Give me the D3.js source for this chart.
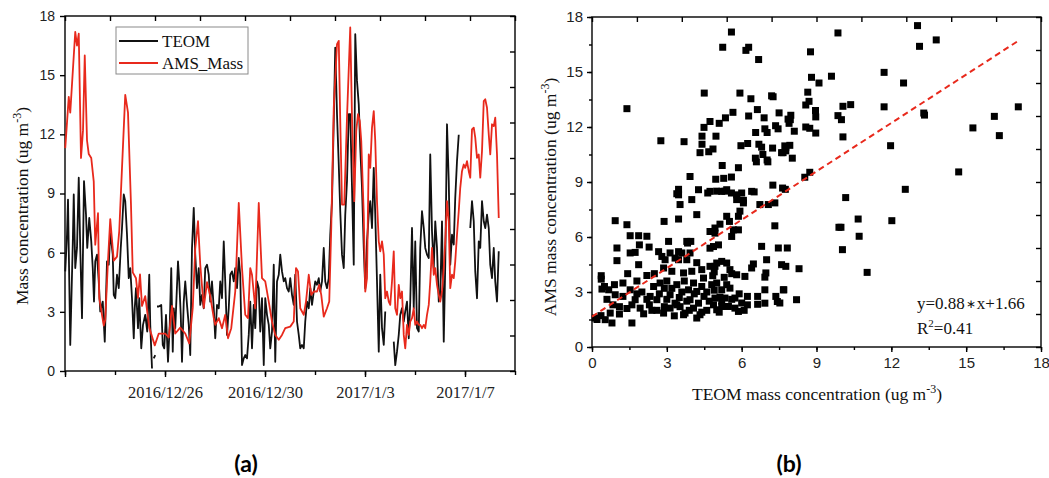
<!DOCTYPE html>
<html>
<head>
<meta charset="utf-8">
<script src="https://cdn.jsdelivr.net/npm/d3@7"></script>
<style>
    body { margin: 0; background: #fff; }
    svg { display: block; }
</style>
</head>
<body>
<div id="chart"></div>
<script>
// ---- data ----
// (a) time series, day offsets from 2016/12/22 00:00
const startDate = new Date(2016, 11, 22);
const teomDays = [0.01, 0.08, 0.12, 0.21, 0.31, 0.35, 0.41, 0.48, 0.55, 0.61, 0.68, 0.76, 0.84, 0.89, 0.97, 1.05, 1.11, 1.16, 1.21, 1.28,
    1.35, 1.41, 1.51, 1.59, 1.68, 1.75, 1.81, 1.91, 1.95, 2.01, 2.08, 2.15, 2.23, 2.28, 2.35, 2.41, 2.48, 2.55, 2.61, 2.68,
    2.75, 2.79, 2.84, 2.92, 2.97, 3.05, 3.12, 3.21, 3.29, 3.37, 3.41, 3.48, 3.52, 3.55, 3.61, 3.64, 3.68, 3.75, 3.85, 3.91,
    3.97, 4.04, 4.12, 4.19, 4.25, 4.31, 4.35, 4.41, 4.52, 4.57, 4.63, 4.68, 4.75, 4.81, 4.88, 4.95, 5.01, 5.08, 5.15, 5.21,
    5.28, 5.35, 5.41, 5.48, 5.55, 5.61, 5.68, 5.75, 5.81, 5.88, 5.95, 6.01, 6.08, 6.15, 6.21, 6.28, 6.35, 6.41, 6.48, 6.55,
    6.61, 6.68, 6.75, 6.81, 6.88, 6.95, 7.01, 7.08, 7.15, 7.21, 7.28, 7.35, 7.41, 7.48, 7.55, 7.61, 7.68, 7.75, 7.81, 7.88,
    7.95, 8.01, 8.08, 8.15, 8.21, 8.28, 8.35, 8.41, 8.48, 8.55, 8.61, 8.68, 8.75, 8.81, 8.88, 8.95, 9.01, 9.08, 9.15, 9.21,
    9.28, 9.35, 9.41, 9.48, 9.55, 9.61, 9.68, 9.75, 9.81, 9.88, 9.95, 10.01, 10.08, 10.15, 10.21, 10.28, 10.35, 10.41, 10.48, 10.55,
    10.61, 10.68, 10.75, 10.81, 10.88, 10.95, 11.01, 11.08, 11.15, 11.21, 11.28, 11.35, 11.41, 11.48, 11.55, 11.61, 11.68, 11.75, 11.81, 11.88,
    11.95, 12.01, 12.08, 12.15, 12.21, 12.28, 12.35, 12.41, 12.48, 12.55, 12.61, 12.68, 12.75, 12.81, 12.98, 13.15, 13.21, 13.28, 13.35, 13.41,
    13.48, 13.55, 13.61, 13.68, 13.75, 13.81, 13.88, 13.95, 14.01, 14.08, 14.15, 14.21, 14.28, 14.35, 14.41, 14.48, 14.55, 14.61, 14.68, 14.75,
    14.81, 14.88, 14.95, 15.01, 15.08, 15.15, 15.21, 15.28, 15.35, 15.41, 15.48, 15.55, 15.61, 15.68, 15.75, 15.98, 16.21, 16.28, 16.35, 16.41,
    16.48, 16.55, 16.61, 16.68, 16.75, 16.81, 16.88, 16.95, 17.01, 17.08, 17.15, 17.21, 17.28, 17.35];
const teomMass = [5.05, 6.91, 8.69, 1.32, 6.41, 8.95, 5.22, 6.24, 9.80, 6.24, 2.68, 9.63, 7.93, 6.24, 7.76, 6.57, 5.22, 3.52, 5.56, 5.90,
    4.54, 3.02, 3.52, 1.49, 5.56, 5.39, 7.08, 5.90, 3.86, 3.69, 4.88, 4.20, 6.24, 7.25, 8.95, 8.61, 6.91, 4.71, 5.22, 3.69,
    1.66, 3.18, 4.20, 2.17, 3.69, 1.15, 2.34, 2.85, 2.00, 4.88, 2.34, 0.13, null, 0.64, 0.81, null, 3.27, 3.27, 3.35, 1.32,
    1.15, 2.85, 0.47, 2.34, 5.22, 0.98, 3.18, 2.17, 5.56, 4.54, 2.85, 0.47, 3.52, 4.54, 3.35, 2.34, 0.81, 6.24, 8.27, 5.90,
    4.20, 5.22, 3.35, 3.86, 3.18, 5.22, 5.39, 4.88, 3.52, 4.54, 3.18, 1.66, 3.35, 3.18, 4.54, 3.69, 6.57, 4.54, 1.83, 3.18,
    4.88, 5.05, 4.54, 5.22, 4.20, 5.73, 4.88, 0.30, 0.64, 0.81, 0.64, 1.83, 3.52, 1.15, 3.35, 2.17, 4.54, 4.20, 2.00, 3.69,
    0.30, 3.69, 2.85, 2.34, 1.15, 2.00, 5.39, 0.47, 4.54, 4.88, 5.90, 5.05, 4.54, 4.71, 4.20, 4.03, 4.71, 3.86, 3.35, 4.88,
    2.51, 1.83, 1.15, 1.32, 1.15, 2.51, 3.52, 3.18, 4.20, 3.35, 4.03, 4.54, 4.37, 4.71, 4.03, 4.54, 6.24, 4.54, 4.20, 4.71,
    6.91, 8.61, 12.68, 16.40, 13.02, 10.47, 8.10, 5.90, 5.22, 7.93, 9.63, 13.02, 13.02, 9.29, 5.39, 17.08, 14.71, 13.52, 11.32, 9.29,
    6.24, 4.20, 6.57, 7.93, 8.61, 7.25, 10.30, 7.93, 4.54, 0.98, 4.88, 2.17, 1.32, 3.02, null, 1.49, 0.30, 0.98, 1.83, 2.85,
    3.18, 2.51, 3.02, 3.52, 1.66, 3.52, 7.25, 3.18, 6.57, 2.17, 2.00, 6.24, 8.10, 7.25, 6.24, 5.90, 5.73, 10.98, 7.08, 5.22,
    7.59, 6.24, 3.52, 3.86, 7.59, 1.49, 5.39, 12.51, 9.63, 5.39, 6.91, 6.41, 8.78, 10.64, 11.98, null, 7.25, 8.61, 7.59, 5.05,
    3.69, 6.57, 6.24, 8.61, 7.59, 7.25, 7.93, 7.25, 5.39, 4.71, 6.24, 4.54, 3.52, 6.07];

const amsDays = [0.01, 0.15, 0.21, 0.41, 0.48, 0.55, 0.64, 0.72, 0.79, 0.88, 0.95, 1.05, 1.15, 1.21, 1.32, 1.37, 1.55, 1.61, 1.72, 1.81,
    1.95, 2.08, 2.17, 2.28, 2.41, 2.52, 2.64, 2.71, 2.84, 2.92, 3.00, 3.08, 3.21, 3.37, 3.59, 3.75, 4.01, 4.15, 4.28, 4.41,
    4.61, 4.81, 4.97, 5.11, 5.21, 5.32, 5.41, 5.55, 5.68, 5.81, 5.95, 6.01, 6.15, 6.28, 6.41, 6.52, 6.65, 6.81, 6.95, 7.08,
    7.21, 7.32, 7.41, 7.48, 7.61, 7.75, 7.88, 8.01, 8.15, 8.28, 8.41, 8.55, 8.68, 8.81, 9.01, 9.15, 9.24, 9.32, 9.41, 9.55,
    9.64, 9.75, 9.85, 9.95, 10.08, 10.17, 10.25, 10.35, 10.48, 10.57, 10.65, 10.75, 10.88, 10.95, 11.01, 11.08, 11.17, 11.28, 11.41, 11.48,
    11.57, 11.65, 11.72, 11.79, 11.85, 11.95, 12.01, 12.08, 12.15, 12.21, 12.28, 12.35, 12.41, 12.48, 12.55, 12.61, 12.68, 12.75, 12.81, 12.88,
    12.95, 13.01, 13.08, 13.15, 13.21, 13.28, 13.35, 13.41, 13.48, 13.55, 13.61, 13.68, 13.75, 13.81, 13.88, 13.95, 14.01, 14.08, 14.15, 14.21,
    14.28, 14.35, 14.41, 14.48, 14.55, 14.61, 14.68, 14.75, 14.81, 14.88, 14.95, 15.01, 15.08, 15.15, 15.21, 15.28, 15.35, 15.41, 15.48, 15.55,
    15.61, 15.68, 15.75, 15.81, 15.88, 15.95, 16.01, 16.08, 16.15, 16.21, 16.28, 16.35, 16.41, 16.48, 16.55, 16.61, 16.68, 16.75, 16.81, 16.88,
    16.95, 17.01, 17.08, 17.15, 17.21, 17.28, 17.35];
const amsMass = [11.3, 13.9, 13.1, 17.2, 16.5, 17.1, 10.8, 12.2, 16.0, 11.7, 11.0, 10.8, 9.6, 6.4, 8.0, 3.7, 2.3, 2.6, 5.6, 7.7,
    5.6, 5.8, 7.1, 10.3, 14.0, 13.1, 8.4, 5.0, 4.7, 3.7, 4.9, 3.3, 3.8, 2.2, 1.3, 1.9, 1.9, 1.7, 3.3, 1.9,
    2.2, 1.9, 1.4, 3.2, 6.2, 7.6, 5.4, 3.2, 4.5, 3.8, 2.7, 2.34, 2.68, 2.17, 2.85, 1.66, 2.17, 4.03, 8.52, 5.22,
    2.85, 2.68, 5.22, 4.88, 3.18, 8.52, 4.71, 4.54, 3.52, 2.51, 1.83, 1.58, 1.83, 2.17, 2.25, 2.51, 5.22, 5.05, 3.18, 2.85,
    3.52, 4.88, 3.86, 4.03, 4.03, 4.37, 3.86, 2.76, 3.18, 3.52, 7.25, 13.35, 16.57, 16.74, 12.68, 8.44, 8.44, 12.85, 17.42, 12.85,
    8.61, 12.17, 13.02, 12.68, 11.66, 7.93, 4.03, 4.71, 10.98, 10.30, 12.34, 13.18, 11.66, 8.61, 6.57, 6.07, 6.57, 5.90, 3.69, 4.03,
    3.52, 3.35, 4.54, 6.07, 3.18, 2.85, 4.37, 3.69, 4.03, 1.83, 1.15, 2.34, 1.83, 2.51, 2.68, 3.18, 2.34, 2.51, 2.34, 2.34,
    2.17, 2.34, 2.17, 2.85, 3.35, 4.54, 6.24, 4.88, 5.22, 4.37, 3.86, 3.52, 4.03, 5.22, 6.57, 8.61, 7.59, 4.20, 4.88, 4.71,
    5.56, 6.91, 8.10, 9.29, 10.13, 10.47, 10.30, 10.64, 10.13, 9.80, 12.25, 12.34, 11.83, 10.81, 10.98, 9.80, 11.15, 13.69, 13.78, 13.35,
    12.00, 10.98, 12.51, 12.42, 12.85, 10.98, 7.76];

const dateTicks = ['2016/12/26', '2016/12/30', '2017/1/3', '2017/1/7'];
const massTicks = [0, 3, 6, 9, 12, 15, 18];

// (b) scatter, TEOM vs AMS (ug m-3)
const scatterTeom = [1.4, 2.76, 3.69, 4.5, 4.49, 4.73, 5.1, 5.35, 5.65, 5.24, 5.59, 6.17, 6.28, 6.68, 5.93, 6.37, 6.28, 6.63, 6.9, 7.2,
    7.26, 7.5, 7.36, 7.46, 7.86, 7.9, 6.56, 6.93, 7.02, 4.41, 4.97, 4.41, 4.85, 4.68, 4.33, 5.97, 6.24, 6.69, 6.8, 6.55,
    6.59, 6.85, 7.02, 7.05, 7.24, 7.66, 7.77, 5.22, 5.87, 5.28, 5.59, 4.96, 3.93, 6.5, 7.25, 7.75, 3.47, 3.47, 4.64, 5.0,
    5.33, 5.59, 5.8, 6.07,
    9.86, 13.05, 13.13, 13.8, 8.76, 9.6, 8.8, 9.1, 8.65, 8.7, 8.57, 8.96, 8.97, 7.97, 7.95, 8.11, 8.57, 8.73, 8.97, 9.86,
    10.0, 10.06, 10.37, 10.06, 11.71, 12.49, 11.71, 13.3, 13.33, 15.27, 16.13, 16.33, 17.09, 11.97, 14.7, 12.56, 10.17, 7.93, 7.73, 7.6,
    7.77, 8.03, 8.73, 8.53, 7.64,
    10.67, 12.02, 9.9, 9.98, 10.71, 10.04, 7.83, 11.03, 7.6, 7.77, 8.3, 7.67, 8.2, 7.53,
    0.93, 1.4, 1.53, 1.87, 2.2, 2.29, 1.9, 1.53, 1.73, 1.0, 1.0, 1.87, 1.43, 0.37, 0.37, 0.4, 0.67, 0.93, 0.84, 0.73,
    0.53, 0.13, 0.36, 0.8, 1.6, 1.24, 1.24, 1.53, 1.73, 1.6, 1.93, 2.07, 2.47, 2.33, 2.73, 2.67, 2.87, 2.8, 2.93, 3.07,
    2.89, 3.13, 3.33, 3.47, 3.2, 3.4, 3.13, 2.6, 2.87, 3.13, 3.33, 3.53, 3.73, 3.47, 3.47, 3.83, 3.96, 3.8, 3.93, 3.67,
    4.0, 4.07, 3.87, 4.2, 3.93, 4.27, 4.07, 4.2, 4.33, 3.67, 3.4, 4.4, 4.47, 4.4, 4.49, 4.73, 4.84, 4.93, 5.0, 5.2,
    5.4, 5.53, 5.8, 4.8, 5.0, 5.2, 5.4, 5.53, 4.93, 5.13, 5.33, 4.87, 5.0, 5.2, 5.47, 5.73, 5.73, 5.87, 6.23, 6.23,
    6.13, 6.4, 6.47, 6.8, 7.0, 6.97, 6.93, 6.64, 6.64, 6.93, 6.93, 7.43, 7.37, 7.69, 7.33, 7.47, 7.33, 7.07, 6.73, 6.07,
    5.93, 5.87, 5.4, 5.51, 5.67, 5.87, 5.6, 5.13, 4.93, 4.73, 4.93, 4.73, 5.07, 4.87, 4.2, 4.0, 3.53, 3.4, 4.27, 4.73,
    5.2, 5.4, 5.8, 6.0, 6.4, 3.8, 3.6,
    2.0, 2.2, 2.5, 2.6, 3.0, 3.2, 3.6, 3.8, 4.6, 4.7, 5.1, 2.3, 1.1, 0.6, 3.0, 4.1, 4.9, 5.6, 2.7, 1.8,
    0.2, 0.5,
    2.4, 2.9, 3.3, 3.5, 3.9, 4.4, 4.6, 4.9, 5.2, 5.6, 5.9, 6.0, 2.2, 1.8, 1.4, 0.9, 1.1, 2.9, 3.7, 4.2,
    5.3, 6.1];
const scatterAms = [13.0, 11.25, 11.2, 13.85, 11.98, 12.3, 12.2, 12.5, 12.8, 16.35, 17.18, 16.18, 16.35, 15.68, 13.85, 13.54, 12.6, 12.95, 12.5, 13.7,
    13.65, 12.77, 12.07, 11.9, 12.43, 12.2, 11.7, 11.9, 11.7, 11.5, 11.5, 11.06, 10.8, 10.65, 10.6, 10.98, 11.1, 11.06, 10.9, 10.3,
    10.1, 10.5, 10.2, 10.1, 10.85, 10.6, 10.9, 9.9, 9.78, 9.2, 9.27, 9.15, 9.3, 8.46, 8.83, 8.6, 8.6, 8.3, 8.4, 8.5,
    8.5, 8.4, 8.3, 8.0,
    17.13, 17.53, 16.4, 16.75, 16.1, 14.77, 14.71, 14.4, 13.9, 13.4, 13.2, 12.9, 12.55, 12.64, 12.4, 11.77, 12.0, 11.93, 11.67, 12.62,
    12.4, 13.13, 13.22, 11.46, 14.98, 14.4, 13.1, 12.76, 12.65, 11.95, 12.58, 11.53, 13.1, 10.98, 9.55, 8.6, 8.15, 11.0, 10.97, 10.6,
    10.7, 10.3, 9.53, 9.26, 8.67,
    6.98, 6.89, 6.53, 6.53, 6.04, 5.31, 5.4, 4.07, 4.49, 4.4, 4.27, 3.12, 2.58, 2.4,
    6.89, 6.67, 6.07, 6.07, 6.04, 5.45, 5.57, 5.13, 5.16, 5.4, 4.71, 4.49, 4.0, 3.89, 3.7, 3.16, 3.12, 2.85, 2.3, 1.85,
    1.49, 1.58, 1.71, 1.31, 1.31, 2.76, 3.49, 3.12, 2.58, 2.3, 2.12, 1.81, 3.3, 2.76, 3.49, 5.2, 4.31, 4.94, 4.76, 5.76,
    6.85, 5.13, 4.85, 6.98, 4.13, 3.4, 2.85, 2.58, 1.85, 2.12, 2.39, 2.2, 1.85, 4.76, 5.2, 5.67, 5.76, 4.76, 5.13, 4.04,
    4.13, 3.49, 3.12, 3.03, 2.58, 2.39, 2.12, 1.58, 1.76, 1.76, 2.3, 4.22, 3.76, 3.3, 2.76, 4.4, 3.89, 4.4, 4.58, 4.67,
    4.58, 4.22, 3.94, 3.4, 3.49, 3.12, 3.4, 3.21, 2.67, 2.72, 2.67, 2.3, 2.03, 2.21, 2.21, 2.67, 2.12, 1.94, 2.3, 2.76,
    3.85, 4.31, 4.53, 5.49, 4.76, 4.04, 3.81, 2.76, 2.33, 3.12, 2.39, 2.48, 2.76, 3.12, 6.61, 5.4, 7.86, 7.77, 7.77, 7.86,
    7.41, 7.13, 7.13, 6.85, 6.39, 6.39, 6.03, 6.7, 6.49, 6.3, 6.21, 5.39, 5.57, 5.48, 7.22, 8.04, 7.77, 8.36, 8.58, 8.49,
    8.49, 8.58, 8.04, 8.4, 8.49, 5.76, 5.13,
    3.0, 3.9, 4.0, 2.0, 3.6, 3.2, 3.0, 2.5, 2.0, 2.5, 1.9, 2.3, 2.2, 2.6, 2.6, 2.9, 4.1, 4.0, 2.9, 3.6,
    1.5, 3.3,
    2.0, 2.2, 1.7, 2.7, 2.0, 1.9, 3.0, 3.1, 2.5, 2.6, 2.9, 2.4, 2.6, 2.9, 2.1, 3.4, 1.8, 3.2, 3.6, 4.6,
    3.8, 2.0];

const fitSlope = 0.88;
const fitIntercept = 1.66;
const fitRange = [0, 17.13];
const scatterTicks = [0, 3, 6, 9, 12, 15, 18];

// ---- style ----
const W = 1049;
const H = 478;
const SERIF = "'Liberation Serif', 'Times New Roman', serif";
const SANS = "'Liberation Sans', Arial, sans-serif";
const RED = '#e8291c';
const BLACK = '#111';
const AXIS_W = 1.4;
const TITLE_PX = 17.5;

const svg = d3.select('#chart')
    .append('svg')
    .attr('width', W)
    .attr('height', H);

svg.append('rect')
    .attr('width', W)
    .attr('height', H)
    .attr('fill', '#fff');

// draw the box axes: left/bottom outward, top/right inward with 10 divisions
function frame(g, plotW, plotH) {
    const top = d3.scaleLinear().domain([0, 10]).range([0, plotW]);
    const side = d3.scaleLinear().domain([0, 10]).range([plotH, 0]);

    g.append('g')
        .call(d3.axisTop(top).ticks(10).tickSize(-5).tickFormat(''));
    g.append('g')
        .attr('transform', `translate(${plotW},0)`)
        .call(d3.axisRight(side).ticks(10).tickSize(-5).tickFormat(''));

    g.append('rect')
        .attr('width', plotW)
        .attr('height', plotH)
        .attr('fill', 'none')
        .attr('stroke', '#000')
        .attr('stroke-width', AXIS_W);

    g.selectAll('.domain').remove();
    g.selectAll('.tick line')
        .attr('stroke', '#000')
        .attr('stroke-width', AXIS_W);
}

function styleTicks(sel, family, size) {
    sel.selectAll('.domain').remove();
    sel.selectAll('.tick line')
        .attr('stroke', '#000')
        .attr('stroke-width', AXIS_W);
    sel.selectAll('.tick text')
        .attr('fill', '#222')
        .style('font-family', family)
        .style('font-size', `${size}px`);
}

// axis title with "m-3" superscript
function unitTitle(x, y, rotate, main) {
    const t = svg.append('text')
        .attr('transform', `translate(${x},${y})${rotate ? ' rotate(-90)' : ''}`)
        .attr('text-anchor', 'middle')
        .style('font-family', SERIF)
        .style('font-size', `${TITLE_PX}px`)
        .attr('fill', '#111');
    t.append('tspan').text(`${main} (ug m`);
    t.append('tspan')
        .attr('dy', -7)
        .style('font-size', '12px')
        .text('-3');
    t.append('tspan')
        .attr('dy', 7)
        .text(')');
}

/**
 * (a) time series
 */
function makeSeries() {
    const left = 65;
    const top = 16;
    const plotW = 450;
    const plotH = 355;
    const parseTick = d3.timeParse('%Y/%m/%d');
    const dayToDate = d => new Date(startDate.getTime() + d * 864e5);

    const x = d3.scaleTime()
        .domain([startDate, dayToDate(18)])
        .range([0, plotW]);
    const y = d3.scaleLinear()
        .domain([0, 18])
        .range([plotH, 0]);

    const g = svg.append('g')
        .attr('transform', `translate(${left},${top})`);

    // minor ticks every 2 days
    const minor = d3.range(0, 19, 2).map(dayToDate);
    g.append('g')
        .attr('transform', `translate(0,${plotH})`)
        .call(d3.axisBottom(x).tickValues(minor).tickSize(4).tickFormat(''))
        .call(s => styleTicks(s, SERIF, 16));

    const major = [startDate].concat(dateTicks.map(parseTick));
    g.append('g')
        .attr('transform', `translate(0,${plotH})`)
        .call(d3.axisBottom(x)
            .tickValues(major)
            .tickSize(6)
            .tickPadding(9)
            .tickFormat(d => (+d === +startDate ? '' : `${d.getFullYear()}/${d.getMonth() + 1}/${d.getDate()}`)))
        .call(s => styleTicks(s, SERIF, 16.5));

    g.append('g')
        .call(d3.axisLeft(y).tickValues(massTicks).tickSize(5).tickPadding(5))
        .call(s => styleTicks(s, SANS, 14));

    frame(g, plotW, plotH);

    const line = d3.line()
        .defined(d => d[1] !== null)
        .x(d => x(dayToDate(d[0])))
        .y(d => y(d[1]));

    g.append('path')
        .datum(teomDays.map((d, i) => [d, teomMass[i]]))
        .attr('d', line)
        .attr('fill', 'none')
        .attr('stroke', BLACK)
        .attr('stroke-width', 1.8)
        .attr('stroke-linejoin', 'round');

    g.append('path')
        .datum(amsDays.map((d, i) => [d, amsMass[i]]))
        .attr('d', line)
        .attr('fill', 'none')
        .attr('stroke', RED)
        .attr('stroke-width', 1.8)
        .attr('stroke-linejoin', 'round');

    // legend
    const lg = g.append('g')
        .attr('transform', 'translate(51,11)');
    lg.append('rect')
        .attr('width', 132)
        .attr('height', 47)
        .attr('fill', '#fff')
        .attr('stroke', '#8a8a8a')
        .attr('stroke-width', 1);
    [['TEOM', BLACK], ['AMS_Mass', RED]].forEach(([name, color], i) => {
        lg.append('line')
            .attr('x1', 3)
            .attr('x2', 42)
            .attr('y1', 14 + i * 22)
            .attr('y2', 14 + i * 22)
            .attr('stroke', color)
            .attr('stroke-width', 2);
        lg.append('text')
            .attr('x', 46)
            .attr('y', 20 + i * 22)
            .style('font-family', SERIF)
            .style('font-size', '17px')
            .attr('fill', '#111')
            .text(name);
    });

    unitTitle(28, 206, true, 'Mass concentration');
}

/**
 * (b) scatter
 */
function makeScatter() {
    const left = 592;
    const top = 17;
    const plotW = 449;
    const plotH = 330;

    const x = d3.scaleLinear().domain([0, 18]).range([0, plotW]);
    const y = d3.scaleLinear().domain([0, 18]).range([plotH, 0]);

    const g = svg.append('g')
        .attr('transform', `translate(${left},${top})`);

    const minor = d3.range(0, 18.1, 1.5);
    g.append('g')
        .attr('transform', `translate(0,${plotH})`)
        .call(d3.axisBottom(x).tickValues(minor).tickSize(3).tickFormat(''))
        .call(s => styleTicks(s, SANS, 15));
    g.append('g')
        .call(d3.axisLeft(y).tickValues(minor).tickSize(3).tickFormat(''))
        .call(s => styleTicks(s, SANS, 15));

    g.append('g')
        .attr('transform', `translate(0,${plotH})`)
        .call(d3.axisBottom(x).tickValues(scatterTicks).tickSize(5).tickPadding(5))
        .call(s => styleTicks(s, SANS, 15));
    g.append('g')
        .call(d3.axisLeft(y).tickValues(scatterTicks).tickSize(5).tickPadding(4))
        .call(s => styleTicks(s, SANS, 15));

    frame(g, plotW, plotH);

    const sz = 7;
    g.append('g')
        .selectAll('rect')
        .data(scatterTeom.map((d, i) => [d, scatterAms[i]]))
        .enter()
        .append('rect')
        .attr('x', d => x(d[0]) - sz / 2)
        .attr('y', d => y(d[1]) - sz / 2)
        .attr('width', sz)
        .attr('height', sz)
        .attr('fill', '#000');

    g.append('line')
        .attr('x1', x(fitRange[0]))
        .attr('y1', y(fitSlope * fitRange[0] + fitIntercept))
        .attr('x2', x(fitRange[1]))
        .attr('y2', y(fitSlope * fitRange[1] + fitIntercept))
        .attr('stroke', RED)
        .attr('stroke-width', 2)
        .attr('stroke-dasharray', '6,4');

    // equation
    const eq = g.append('g')
        .style('font-family', SERIF)
        .style('font-size', '17px')
        .attr('fill', '#111');
    const line1 = eq.append('text')
        .attr('x', 325)
        .attr('y', 292);
    line1.append('tspan').text(`y=${fitSlope}`);
    line1.append('tspan').style('font-size', '12px').attr('dx', 1).attr('dy', -1).text('\u2217');
    line1.append('tspan').attr('dx', 1).attr('dy', 1).text(`x+${fitIntercept}`);
    const r2 = eq.append('text')
        .attr('x', 325)
        .attr('y', 317);
    r2.append('tspan').text('R');
    r2.append('tspan').attr('dy', -7).style('font-size', '11px').text('2');
    r2.append('tspan').attr('dy', 7).text('=0.41');

    unitTitle(556, 197, true, 'AMS mass concentration');
    unitTitle(817, 400, false, 'TEOM mass concentration');
}

makeSeries();
makeScatter();

// panel labels
[['(a)', 246], ['(b)', 789]].forEach(([lbl, cx]) => {
    svg.append('text')
        .attr('x', cx)
        .attr('y', 472)
        .attr('text-anchor', 'middle')
        .style('font-family', "Lato, 'Open Sans', sans-serif")
        .style('font-weight', 'bold')
        .style('font-size', '23px')
        .attr('fill', '#000')
        .text(lbl);
});
</script>
</body>
</html>
